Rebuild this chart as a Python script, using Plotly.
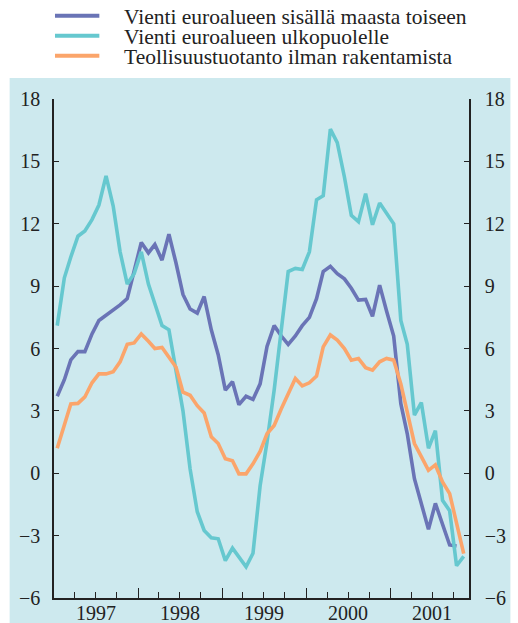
import pandas as pd
import plotly.graph_objects as go

# ---- data (monthly, year-on-year % change) ----
months = pd.date_range("1997-01-01", periods=59, freq="MS") + pd.Timedelta(days=14)

intra_exports = [3.7, 4.5, 5.45, 5.85, 5.85, 6.7, 7.35, 7.6, 7.9, 8.1, 8.4, 9.8,
                 11.1, 10.6, 11.0, 10.25, 11.5, 10.1, 8.6, 7.9, 7.7, 8.5, 6.9, 5.7,
                 4.0, 4.4, 3.3, 3.7, 3.55, 4.3, 6.1, 7.1, 6.6, 6.2, 6.6, 7.1,
                 7.5, 8.4, 9.7, 9.95, 9.6, 9.35, 8.9, 8.33, 8.36, 7.55, 9.05, 7.8,
                 6.6, 3.35, 1.9, -0.26, -1.4, -2.7, -1.45, -2.4, -3.45, -3.5]

extra_exports = [7.1, 9.4, 10.4, 11.4, 11.65, 12.2, 12.9, 14.3, 12.85, 10.65, 9.1, 9.6,
                 10.65, 9.1, 8.15, 7.1, 6.9, 5.0, 3.0, 0.2, -1.85, -2.75, -3.1, -3.15,
                 -4.2, -3.6, -4.0, -4.5, -3.85, -0.6, 1.5, 4.0, 6.9, 9.7, 9.85, 9.8,
                 10.65, 13.15, 13.35, 16.55, 15.9, 14.25, 12.4, 12.1, 13.45, 11.95, 13.0, 12.5,
                 12.0, 7.35, 6.2, 2.8, 3.4, 1.2, 2.05, -1.3, -1.8, -4.45, -4.0]

industrial_prod = [1.2, 2.4, 3.33, 3.36, 3.67, 4.35, 4.78, 4.78, 4.88, 5.36, 6.2, 6.27,
                   6.7, 6.35, 6.0, 6.05, 5.6, 5.1, 3.9, 3.75, 3.25, 2.9, 1.75, 1.43,
                   0.7, 0.6, -0.03, -0.03, 0.45, 1.05, 1.9, 2.3, 3.1, 3.83, 4.56, 4.2,
                   4.35, 4.67, 6.08, 6.65, 6.4, 6.0, 5.44, 5.52, 5.08, 4.96, 5.36, 5.52,
                   5.44, 4.3, 2.95, 1.43, 0.8, 0.14, 0.4, -0.42, -0.98, -2.42, -3.87]

series_names = ["Vienti euroalueen sisällä maasta toiseen",
                "Vienti euroalueen ulkopuolelle",
                "Teollisuustuotanto ilman rakentamista"]
series_colors = ["#6a74b6", "#66c8cf", "#fba56b"]
year_labels = ["1997", "1998", "1999", "2000", "2001"]
y_ticks = [-6, -3, 0, 3, 6, 9, 12, 15, 18]

# ---- layout geometry ----
W, H = 518, 623
L, R, T, B = 54, 43, 99, 25
PW, PH = W - L - R, H - T - B
FONT = "Liberation Serif, Times New Roman, serif"
BG = "#cde9ee"


def px_x(px):
    return (px - L) / PW


def px_y(py):
    return (H - B - py) / PH


fig = go.Figure()
for name, vals, col in zip(series_names, [intra_exports, extra_exports, industrial_prod], series_colors):
    fig.add_trace(go.Scatter(x=months[:len(vals)], y=vals, mode="lines", name=name,
                             line=dict(color=col, width=3.6), showlegend=False))

# invisible trace to activate the right-hand axis
fig.add_trace(go.Scatter(x=[months[0]], y=[0], yaxis="y2", mode="markers",
                         marker=dict(opacity=0), showlegend=False, hoverinfo="skip"))

axis_font = dict(family=FONT, size=20, color="#222")
fig.update_layout(
    width=W, height=H,
    margin=dict(l=L, r=R, t=T, b=B),
    paper_bgcolor="white", plot_bgcolor=BG,
    font=axis_font,
    xaxis=dict(type="date", range=["1997-01-01", "2001-12-08"],
               tickvals=["1998-01-01", "1999-01-01", "2000-01-01", "2001-01-01"],
               ticks="inside", ticklen=10, tickwidth=1, tickcolor="#222",
               showticklabels=False, showgrid=False, zeroline=False,
               showline=True, linecolor="#222", linewidth=1.5,
               minor=dict(dtick="M3", tick0="1997-01-01", ticks="inside", ticklen=6,
                          tickwidth=1, tickcolor="#222", showgrid=False)),
    yaxis=dict(range=[-6, 18], tickvals=y_ticks, ticks="inside", ticklen=5,
               tickcolor="#222", showgrid=False, zeroline=False, showline=True,
               linecolor="#222", linewidth=1.5, tickfont=axis_font, ticklabelstandoff=8),
    yaxis2=dict(range=[-6, 18], tickvals=y_ticks, ticks="inside", ticklen=5,
                tickcolor="#222", overlaying="y", side="right", showgrid=False,
                zeroline=False, showline=True, linecolor="#222", linewidth=1.5,
                tickfont=axis_font, ticklabelstandoff=10),
)

# blue panel behind the plot
fig.add_shape(type="rect", xref="paper", yref="paper", layer="below",
              x0=px_x(9), x1=px_x(517), y0=px_y(H + 5), y1=px_y(78),
              fillcolor=BG, line=dict(width=0))

# year labels centred in each year
for lab in year_labels:
    fig.add_annotation(x=f"{lab}-07-02", y=0, xref="x", yref="paper", text=lab,
                       showarrow=False, yanchor="top", yshift=-2, font=axis_font)

# legend drawn above the panel
legend_rows = [15.7, 35.7, 55.7]
for name, col, yy in zip(series_names, series_colors, legend_rows):
    fig.add_shape(type="line", xref="paper", yref="paper",
                  x0=px_x(55), x1=px_x(100), y0=px_y(yy), y1=px_y(yy),
                  line=dict(color=col, width=4))
    fig.add_annotation(x=px_x(123), y=px_y(yy + 1), xref="paper", yref="paper",
                       text=name, showarrow=False, xanchor="left", yanchor="middle",
                       font=dict(family=FONT, size=21.5, color="#222"))

fig.write_html("out.html", config={"displayModeBar": False},
               post_script="document.body.style.margin='0';document.body.style.overflow='hidden';")
